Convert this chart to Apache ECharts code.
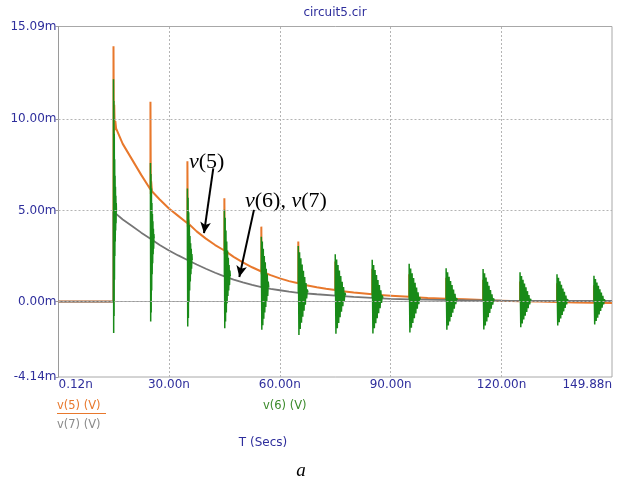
<!DOCTYPE html>
<html>
<head>
<meta charset="utf-8">
<script src="https://cdn.jsdelivr.net/npm/echarts@6/dist/echarts.min.js"></script>
<style>html,body{margin:0;padding:0;background:#fff;}#c{width:640px;height:486px;}</style>
</head>
<body>
<div id="c"></div>
<script>
// ---- axis ticks ----
const xTicks = [0.12, 30, 60, 90, 120, 149.88];
const yTicks = [-4.14, 0, 5, 10, 15.09];
const gridX = [30, 60, 90, 120];
const gridY = [0, 5, 10];

// ---- v(5) (orange): [time ns, value mV] ----
const v5 = [
 [0.12,0],[15,0],[15,14.0],[15.1,9.2],[15.2,10.8],[15.35,9.4],[15.5,9.9],[15.7,9.5],
 [17.5,8.65],[20,7.8],[22.5,6.95],[25,6.15],[25,10.96],[25.1,5.9],[25.2,6.6],[25.4,6.05],
 [27.5,5.6],[30,5.1],[32.5,4.7],[35,4.3],[35,7.7],[35.1,4.1],[35.25,4.5],[35.4,4.25],
 [37.5,3.85],[40,3.45],[42.5,3.1],[45,2.8],[45,5.67],[45.1,2.6],[45.25,2.95],[45.4,2.75],
 [47.5,2.45],[50,2.15],[52.5,1.88],[55,1.65],[55,4.11],[55.1,1.5],[55.25,1.75],[55.4,1.62],
 [57.5,1.45],[60,1.27],[62.5,1.12],[65,1.0],[65,3.3],[65.15,0.95],
 [67.5,0.88],[70,0.78],[72.5,0.7],[75,0.63],[75,2.2],[75.15,0.6],
 [80,0.5],[85,0.4],[85,1.8],[85.15,0.38],[90,0.32],[95,0.26],[95,1.5],[95.15,0.25],
 [100,0.2],[105,0.16],[105,1.3],[105.15,0.15],[110,0.12],[115,0.08],[115,1.2],[115.15,0.07],
 [120,0.05],[125,0.02],[125,1.1],[125.15,0.02],[130,0],[135,-0.03],[135,1.0],[135.15,-0.03],
 [140,-0.05],[145,-0.07],[145,0.9],[145.15,-0.07],[149.88,-0.08]
];

// ---- v(7) (gray) ----
const v7 = [
 [0.12,0],[15,0],[15,4.93],[17.5,4.5],[20,4.15],[22.5,3.78],[25,3.45],[27.5,3.1],[30,2.8],
 [32.5,2.53],[35,2.28],[37.5,2.03],[40,1.8],[42.5,1.58],[45,1.38],[47.5,1.2],[50,1.05],
 [52.5,0.91],[55,0.79],[57.5,0.69],[60,0.62],[62.5,0.54],[65,0.48],[70,0.4],[75,0.33],
 [80,0.26],[85,0.2],[90,0.15],[95,0.12],[100,0.1],[110,0.07],[120,0.05],[130,0.04],
 [140,0.03],[149.88,0.03]
];

// ---- v(6) (green) ringing bursts ----
const burstTimes = [15, 25, 35, 45, 55, 65, 75, 85, 95, 105, 115, 125, 135, 145];
const burstSpans = [0.8, 1.0, 1.3, 1.6, 2.0, 2.6, 2.8, 2.9, 3.0, 3.0, 3.0, 3.0, 3.0, 3.0];
const burstSteps = [0, 0, 1, 2, 3, 4, 5, 6, 7, 8, 9, 10, 11, 12, 13, 14, 15];
const v6Bursts = [
 [0, 12.2, -1.73, 11.0, -0.8, 9.2, 1.2, 7.8, 2.5, 6.9, 3.3, 6.3, 3.9, 5.8, 4.3, 5.4, 4.93],
 [3.45, 7.6, -1.1, 7.0, -0.6, 6.2, 0.6, 5.4, 1.5, 4.8, 2.1, 4.4, 2.6, 4.0, 2.9, 3.7, 3.45],
 [2.28, 6.2, -1.37, 5.7, -0.9, 4.9, 0.0, 4.2, 0.6, 3.6, 1.1, 3.2, 1.5, 2.9, 1.8, 2.6, 2.28],
 [1.38, 5.03, -1.46, 4.6, -1.1, 3.9, -0.6, 3.3, -0.1, 2.8, 0.3, 2.4, 0.6, 2.0, 0.9, 1.7, 1.38],
 [0.78, 3.56, -1.55, 3.3, -1.3, 2.9, -0.95, 2.5, -0.6, 2.15, -0.3, 1.8, 0.0, 1.5, 0.3, 1.1, 0.78],
 [0.5, 3.05, -1.83, 2.71, -1.5, 2.37, -1.17, 2.03, -0.83, 1.69, -0.5, 1.35, -0.17, 1.01, 0.17, 0.67, 0.5],
 [0.34, 2.6, -1.77, 2.3, -1.47, 2.0, -1.17, 1.7, -0.86, 1.4, -0.56, 1.09, -0.26, 0.79, 0.04, 0.49, 0.34],
 [0.2, 2.29, -1.75, 2.01, -1.47, 1.73, -1.19, 1.45, -0.91, 1.18, -0.64, 0.9, -0.36, 0.62, -0.08, 0.34, 0.2],
 [0.12, 2.07, -1.7, 1.81, -1.44, 1.55, -1.18, 1.29, -0.92, 1.03, -0.66, 0.77, -0.4, 0.51, -0.14, 0.25, 0.12],
 [0.08, 1.83, -1.55, 1.6, -1.32, 1.36, -1.09, 1.13, -0.85, 0.9, -0.62, 0.66, -0.39, 0.43, -0.15, 0.2, 0.08],
 [0.06, 1.78, -1.54, 1.55, -1.32, 1.32, -1.09, 1.09, -0.86, 0.86, -0.63, 0.63, -0.4, 0.4, -0.17, 0.18, 0.06],
 [0.05, 1.61, -1.41, 1.4, -1.2, 1.19, -0.99, 0.99, -0.78, 0.78, -0.57, 0.57, -0.37, 0.36, -0.16, 0.15, 0.05],
 [0.04, 1.5, -1.32, 1.31, -1.13, 1.11, -0.93, 0.92, -0.74, 0.72, -0.54, 0.53, -0.35, 0.33, -0.15, 0.14, 0.04],
 [0.03, 1.41, -1.26, 1.23, -1.07, 1.04, -0.89, 0.86, -0.71, 0.67, -0.52, 0.49, -0.34, 0.31, -0.15, 0.12, 0.03]
];

// ---- annotation arrows (data coords: from -> to) ----
const arrowV5 = [[42.0, 7.31], [39.49, 3.75]];
const arrowV67 = [[53.0, 5.03], [49.04, 1.35]];

const FONT = 'DejaVu Sans';
const BLUE = '#2e2e9c';
const ORANGE = '#e8782c';
const GREEN = '#188a18';
const GRAY = '#767676';

const burstSeries = v6Bursts.map((vals, k) => ({
  name: 'v(6) (V)', type: 'line', z: 4, silent: true,
  showSymbol: false, symbol: 'none', animation: false,
  lineStyle: { color: GREEN, width: 1.5 },
  data: vals.map((v, i) => [burstTimes[k] + burstSteps[i] / 15 * burstSpans[k], v])
}));

const chart = echarts.init(document.getElementById('c'), null, { renderer: 'canvas' });
chart.setOption({
  animation: false,
  backgroundColor: '#fff',
  textStyle: { fontFamily: FONT },
  grid: { left: 58.5, right: 28, top: 26.5, bottom: 109, show: true, borderColor: '#a8a8a8', borderWidth: 1, containLabel: false },
  xAxis: {
    type: 'value', min: 0.12, max: 149.88,
    axisLine: { show: true, lineStyle: { color: '#9a9a9a', width: 1 } },
    axisTick: { show: false },
    splitLine: { show: false },
    axisLabel: {
      customValues: xTicks, color: BLUE, fontSize: 12, fontFamily: FONT, margin: 2,
      alignMinLabel: 'left', alignMaxLabel: 'right', showMinLabel: true, showMaxLabel: true,
      formatter: v => v.toFixed(2) + 'n'
    }
  },
  yAxis: {
    type: 'value', min: -4.14, max: 15.09,
    axisLine: { show: true, lineStyle: { color: '#9a9a9a', width: 1 } },
    axisTick: { show: true, length: 3, customValues: yTicks, lineStyle: { color: '#9a9a9a' } },
    splitLine: { show: false },
    axisLabel: {
      customValues: yTicks, color: BLUE, fontSize: 12, fontFamily: FONT, margin: 2,
      showMinLabel: true, showMaxLabel: true,
      formatter: v => v.toFixed(2) + 'm'
    }
  },
  series: [
    {
      name: 'grid', type: 'line', data: [], z: 1, silent: true, symbol: 'none',
      markLine: {
        silent: true, symbol: ['none', 'none'], animation: false,
        label: { show: false },
        lineStyle: { color: '#b4b4b4', width: 1, type: [2, 2] },
        data: gridX.map(x => ({ xAxis: x })).concat(gridY.map(y => ({ yAxis: y })))
      }
    },
    {
      name: 'v(5) (V)', type: 'line', z: 2, silent: true, showSymbol: false, symbol: 'none',
      lineStyle: { color: ORANGE, width: 2 }, data: v5
    },
    {
      name: 'v(7) (V)', type: 'line', z: 3, silent: true, showSymbol: false, symbol: 'none',
      lineStyle: { color: GRAY, width: 1.8 }, data: v7
    },
    ...burstSeries,
    {
      name: 'arrows', type: 'line', data: [], z: 6, silent: true, symbol: 'none',
      markLine: {
        silent: true, animation: false, symbol: ['none', 'arrow'], symbolSize: [8, 11],
        label: { show: false },
        lineStyle: { color: '#000', width: 2, type: 'solid' },
        data: [
          [{ coord: arrowV5[0] }, { coord: arrowV5[1] }],
          [{ coord: arrowV67[0] }, { coord: arrowV67[1] }]
        ]
      }
    }
  ],
  graphic: [
    { type: 'text', x: 335, y: 13, style: { text: 'circuit5.cir', fill: BLUE, font: '12px "DejaVu Sans"', textAlign: 'center', textVerticalAlign: 'middle', align: 'center', verticalAlign: 'middle' } },
    { type: 'text', x: 57, y: 406, style: { text: 'v(5) (V)', fill: ORANGE, font: '11.5px "DejaVu Sans"', textAlign: 'left', textVerticalAlign: 'middle', align: 'left', verticalAlign: 'middle' } },
    { type: 'line', shape: { x1: 57, y1: 413.5, x2: 106, y2: 413.5 }, style: { stroke: ORANGE, lineWidth: 1 } },
    { type: 'text', x: 57, y: 425, style: { text: 'v(7) (V)', fill: '#8a8a8a', font: '11.5px "DejaVu Sans"', textAlign: 'left', textVerticalAlign: 'middle', align: 'left', verticalAlign: 'middle' } },
    { type: 'text', x: 263, y: 406, style: { text: 'v(6) (V)', fill: '#3a8a2a', font: '11.5px "DejaVu Sans"', textAlign: 'left', textVerticalAlign: 'middle', align: 'left', verticalAlign: 'middle' } },
    { type: 'text', x: 263, y: 443, style: { text: 'T (Secs)', fill: BLUE, font: '12px "DejaVu Sans"', textAlign: 'center', textVerticalAlign: 'middle', align: 'center', verticalAlign: 'middle' } },
    { type: 'text', x: 301, y: 471, style: { text: 'a', fill: '#000', font: 'italic 19px "Liberation Serif"', textAlign: 'center', textVerticalAlign: 'middle', align: 'center', verticalAlign: 'middle' } },
    { type: 'text', x: 189, y: 162.5, style: {
        text: '{i|v}{n|(5)}', align: 'left', verticalAlign: 'middle', textAlign: 'left', textVerticalAlign: 'middle',
        rich: { i: { fontFamily: 'Liberation Serif', fontStyle: 'italic', fontSize: 22, fill: '#000', color: '#000' },
                n: { fontFamily: 'Liberation Serif', fontSize: 22, fill: '#000', color: '#000' } } } },
    { type: 'text', x: 245, y: 201, style: {
        text: '{i|v}{n|(6), }{i|v}{n|(7)}', align: 'left', verticalAlign: 'middle', textAlign: 'left', textVerticalAlign: 'middle',
        rich: { i: { fontFamily: 'Liberation Serif', fontStyle: 'italic', fontSize: 22, fill: '#000', color: '#000' },
                n: { fontFamily: 'Liberation Serif', fontSize: 22, fill: '#000', color: '#000' } } } }
  ]
});
</script>
</body>
</html>
